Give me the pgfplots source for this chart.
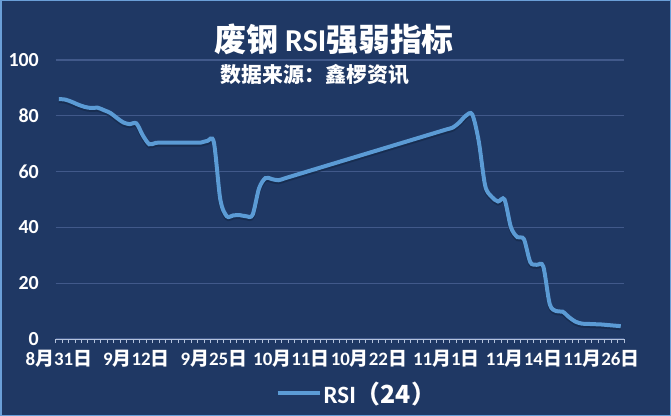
\documentclass[border=0pt]{standalone}
\usepackage{pgfplots}
\pgfplotsset{compat=1.18}
\usepackage{pgfplotstable}
\usepackage{fontspec}
\setmainfont{Carlito}
\newfontfamily\cjk{Noto Sans CJK SC}

\definecolor{bg}{HTML}{1F3864}
\definecolor{gridc}{HTML}{41598A}
\definecolor{tickc}{HTML}{B4C2DC}
\definecolor{rsi}{HTML}{5B9BD5}
\definecolor{shadowc}{HTML}{132645}
\definecolor{frame}{HTML}{6A9FD8}

\newcommand\cj[1]{{\cjk #1}}

% RSI(24), one value per category (88 categories)
\pgfplotstableread{
i v
0 86
1 85.8
2 85
3 84
4 83.2
5 82.8
6 82.9
7 82
8 81
9 79.2
10 77.6
11 77
12 77.3
13 73
14 69.8
15 70.3
16 70.4
17 70.4
18 70.4
19 70.4
20 70.4
21 70.4
22 70.4
23 71
24 70.5
25 50
26 44
27 44.3
28 44.4
29 44
30 44.5
31 54
32 57.7
33 57.3
34 56.9
35 57.6
36 58.3
37 59.0
38 59.7
39 60.4
40 61.1
41 61.8
42 62.5
43 63.2
44 63.9
45 64.6
46 65.3
47 66.0
48 66.7
49 67.4
50 68.1
51 68.8
52 69.5
53 70.2
54 70.9
55 71.6
56 72.3
57 73.0
58 73.7
59 74.4
60 75.1
61 75.8
62 77.6
63 80
64 80.5
65 71
66 55
67 51
68 49.3
69 50
70 40
71 36.5
72 35.8
73 27.5
74 26.6
75 26
76 12.5
77 10
78 9.8
79 7.8
80 6.2
81 5.5
82 5.4
83 5.3
84 5.2
85 5
86 4.8
87 4.6
}\rsidata

\begin{document}
\begin{tikzpicture}
\fill[bg] (0,0) rectangle (671bp,416bp);
\draw[frame,line width=1.5bp] (0.75bp,0.75bp) rectangle (670.25bp,415.25bp);

\node[text=white,font=\bfseries\fontsize{32}{36}\selectfont] at (334bp,377bp)
  {\cj{废钢} RSI\cj{强弱指标}};
\node[text=white,font=\bfseries\fontsize{21}{24}\selectfont] at (315bp,341bp)
  {\cj{数据来源：鑫椤资讯}};

\begin{axis}[
    at={(55.6bp,77bp)}, anchor=south west,
    width=568.4bp, height=279bp, scale only axis,
    xmin=-0.5, xmax=87.5,
    ymin=0, ymax=100,
    ytick={0,20,...,100},
    xtick={0,12,...,84},
    xticklabels={8\cj{月}31\cj{日},9\cj{月}12\cj{日},9\cj{月}25\cj{日},10\cj{月}11\cj{日},
                 10\cj{月}22\cj{日},11\cj{月}1\cj{日},11\cj{月}14\cj{日},11\cj{月}26\cj{日}},
    minor xtick={-0.5,0.5,...,87.5},
    axis x line=bottom, axis y line=left,
    axis line style={-},
    x axis line style={draw=tickc, line width=1bp},
    y axis line style={draw=none},
    tick align=outside,
    major x tick style={draw=none},
    minor x tick style={draw=tickc, line width=0.8bp},
    minor tick length=4bp,
    ytick style={draw=none},
    ymajorgrids,
    major grid style={draw=gridc, line width=1.2bp},
    /pgf/number format/assume math mode=true,
    ticklabel style={text=white, font=\bfseries\fontsize{20}{22}\selectfont},
    xticklabel style={yshift=-3bp, font=\bfseries\fontsize{19}{22}\selectfont, inner xsep=0pt},
    yticklabel style={xshift=-9bp},
    legend style={at={(0.53,-0.194)}, anchor=center, draw=none, fill=none,
        text=white, font=\bfseries\fontsize{25}{28}\selectfont},
    legend image code/.code={\draw[#1] (0bp,0bp) -- (42bp,0bp);},
]
\addplot[shadowc, opacity=0.6, line width=4bp, smooth, tension=0.5, forget plot,
    transform canvas={yshift=-2bp}] table[x=i, y=v] {\rsidata};
\addplot[rsi, line width=4bp, smooth, tension=0.5] table[x=i, y=v] {\rsidata};
\addlegendentry{RSI\cj{（24）}}
\end{axis}
\end{tikzpicture}
\end{document}
